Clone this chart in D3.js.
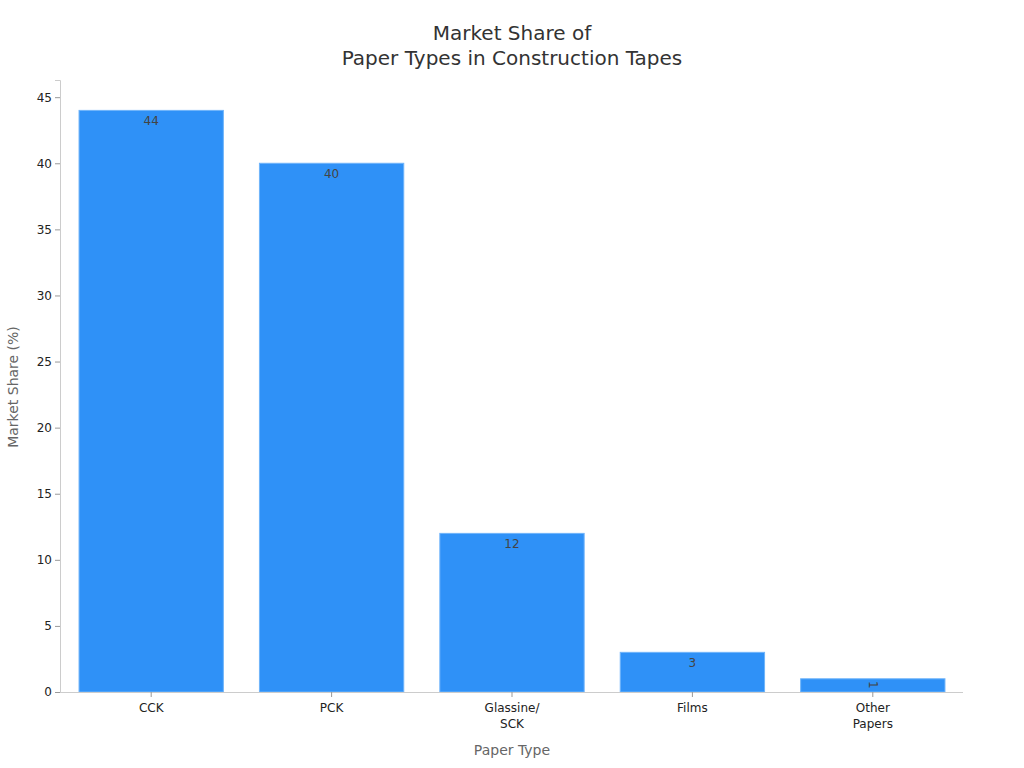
<!DOCTYPE html>
<html><head><meta charset="utf-8">
<script src="https://cdn.jsdelivr.net/npm/d3@7"></script>
<style>body{margin:0;background:#fff;} svg{display:block;font-family:"DejaVu Sans",sans-serif;}</style>
</head><body>
<svg id="chart" width="1024" height="768"></svg>
<script>
const categories = [["CCK"], ["PCK"], ["Glassine/", "SCK"], ["Films"], ["Other", "Papers"]];
const values = [44, 40, 12, 3, 1];
const yTicks = [0, 5, 10, 15, 20, 25, 30, 35, 40, 45];
const titleLines = ["Market Share of", "Paper Types in Construction Tapes"];

const svg = d3.select("#chart");
const m = {left: 60, right: 61, top: 80, bottom: 76};
const W = 1024, H = 768;
const keys = categories.map(c => c.join(" "));
const x = d3.scaleBand().domain(keys).range([m.left + 1, W - m.right]).paddingInner(0.2).paddingOuter(0.1);
const y = d3.scaleLinear().domain([0, 46.3]).range([H - m.bottom, m.top]);

// title
svg.append("text").attr("x", 512).attr("y", 40).attr("text-anchor", "middle")
  .attr("font-size", 20).attr("fill", "#333")
  .selectAll("tspan").data(titleLines).join("tspan")
  .attr("x", 512).attr("dy", (d, i) => i ? 25 : 0).text(d => d);

// bars
svg.append("g").selectAll("rect").data(values).join("rect")
  .attr("x", (d, i) => x(keys[i])).attr("width", x.bandwidth())
  .attr("y", d => y(d)).attr("height", d => y(0) - y(d))
  .attr("fill", "#2f91f7").attr("stroke", "#6fb4fa").attr("stroke-width", 1);

// value labels
svg.append("g").selectAll("text").data(values).join("text")
  .attr("font-size", 12).attr("fill", "#444").attr("text-anchor", "middle")
  .attr("transform", (d, i) => {
    const cx = x(keys[i]) + x.bandwidth() / 2;
    if (y(0) - y(d) < 20) return `translate(${cx},${y(d) + 6}) rotate(90)`;
    return `translate(${cx},${y(d) + 15})`;
  })
  .attr("dy", (d) => (y(0) - y(d) < 20) ? "0.35em" : 0)
  .text(d => d);

// y axis
const ya = svg.append("g").attr("transform", `translate(${m.left},0)`)
  .call(d3.axisLeft(y).tickValues(yTicks).tickSize(5).tickPadding(3));
ya.select(".domain").attr("stroke", "#ccc");
ya.selectAll(".tick line").attr("stroke", "#999");
ya.selectAll(".tick text").attr("font-size", 12).attr("fill", "#222").attr("font-family", "DejaVu Sans");

// x axis
const xa = svg.append("g").attr("transform", `translate(0,${H - m.bottom})`)
  .call(d3.axisBottom(x).tickSize(5).tickPadding(6).tickSizeOuter(0));
xa.select(".domain").attr("stroke", "#ccc").attr("d", `M${m.left},0.5H${W - m.right}`);
xa.selectAll(".tick line").attr("stroke", "#999");
xa.selectAll(".tick text").attr("font-size", 12).attr("fill", "#222").attr("font-family", "DejaVu Sans")
  .each(function(d, i) {
    const t = d3.select(this); t.text(null);
    categories[i].forEach((line, j) => {
      t.append("tspan").attr("x", 0).attr("dy", j ? "1.35em" : "0.71em").text(line);
    });
  });

// axis titles
svg.append("text").attr("x", 512).attr("y", 755).attr("text-anchor", "middle")
  .attr("font-size", 14).attr("fill", "#666").text("Paper Type");
svg.append("text").attr("transform", `translate(18,${(m.top + H - m.bottom) / 2 + 1}) rotate(-90)`)
  .attr("text-anchor", "middle").attr("font-size", 14).attr("fill", "#666").text("Market Share (%)");
</script>
</body></html>
